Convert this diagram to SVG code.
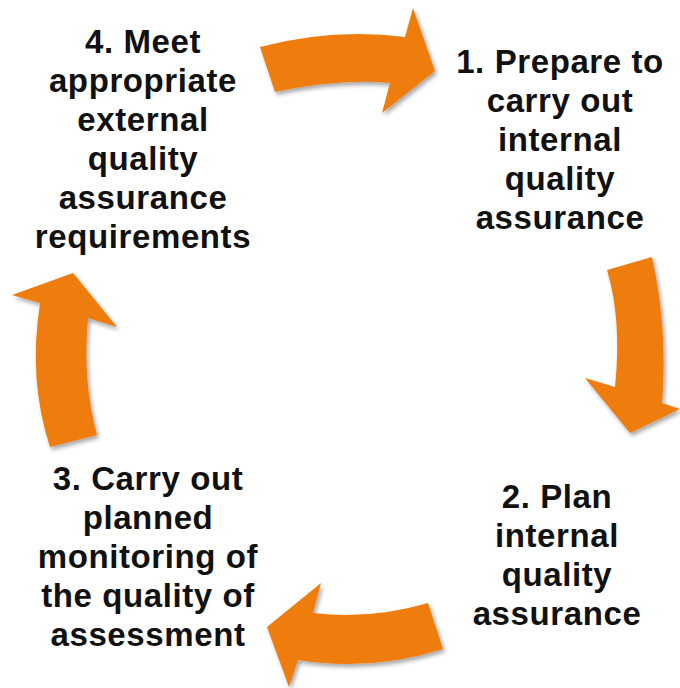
<svg xmlns="http://www.w3.org/2000/svg" width="680" height="688" viewBox="0 0 680 688">
<defs>
<filter id="sh" x="-20%" y="-20%" width="140%" height="140%">
<feDropShadow dx="2" dy="3" stdDeviation="2" flood-color="#000" flood-opacity="0.35"/>
</filter>
<style>
.arr{fill:#EF7D0E;filter:url(#sh)}
.t{font-family:"Liberation Sans",Arial,sans-serif;font-weight:bold;font-size:33px;letter-spacing:0.6px;fill:#111;text-anchor:middle}
</style>
</defs>
<rect width="680" height="688" fill="#fff"/>
<g id="connectors">
<path class="arr" d="M260,47 Q333,28 405,37 L413,8 L435,71 L382,113 L390,83 Q340,78 275,92 Z"/>
<path class="arr" d="M607,270 L652,257 Q668,330 662,403 L680,409 L630,433 L585,378 L615,387 Q622,320 607,270 Z"/>
<path class="arr" d="M428,603 L443,649 Q370,672 298,660 L289,687 L267,627 L321,583 L313,613 Q370,620 428,603 Z"/>
<path class="arr" d="M50,447 L97,435 Q82,380 88,318 L117,327 L73,273 L12,295 L40,303 Q28,380 50,447 Z"/>
</g>
<g id="node1">
<text class="t" x="560" y="73">1. Prepare to</text>
<text class="t" x="560" y="112">carry out</text>
<text class="t" x="560" y="151">internal</text>
<text class="t" x="560" y="190">quality</text>
<text class="t" x="560" y="229">assurance</text>
</g>
<g id="node2">
<text class="t" x="557" y="508">2. Plan</text>
<text class="t" x="557" y="547">internal</text>
<text class="t" x="557" y="586">quality</text>
<text class="t" x="557" y="625">assurance</text>
</g>
<g id="node3">
<text class="t" x="148" y="490">3. Carry out</text>
<text class="t" x="148" y="529">planned</text>
<text class="t" x="148" y="568">monitoring of</text>
<text class="t" x="148" y="607">the quality of</text>
<text class="t" x="148" y="646">assessment</text>
</g>
<g id="node4">
<text class="t" x="143" y="53">4. Meet</text>
<text class="t" x="143" y="92">appropriate</text>
<text class="t" x="143" y="131">external</text>
<text class="t" x="143" y="170">quality</text>
<text class="t" x="143" y="209">assurance</text>
<text class="t" x="143" y="248">requirements</text>
</g>
</svg>
